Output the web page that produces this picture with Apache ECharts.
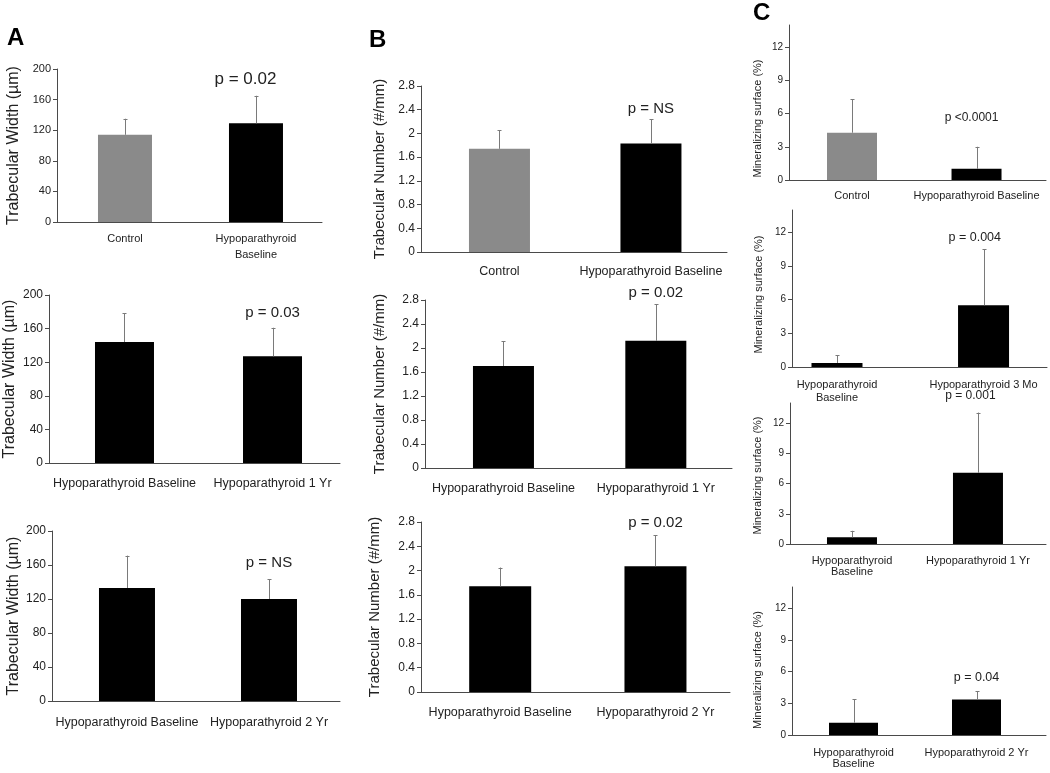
<!DOCTYPE html>
<html><head><meta charset="utf-8">
<script src="https://cdn.jsdelivr.net/npm/echarts@6/dist/echarts.min.js"></script>
<style>html,body{margin:0;padding:0;background:#fff}#c{width:1050px;height:773px}</style>
</head><body><div id="c"></div>
<script>
// ---------- DATA ----------
const catsA1 = ['Control', 'Hypoparathyroid\nBaseline'];
const catsA2 = ['Hypoparathyroid Baseline', 'Hypoparathyroid 1 Yr'];
const catsA3 = ['Hypoparathyroid Baseline', 'Hypoparathyroid 2 Yr'];
const catsB1 = ['Control', 'Hypoparathyroid Baseline'];
const catsB2 = ['Hypoparathyroid Baseline', 'Hypoparathyroid 1 Yr'];
const catsB3 = ['Hypoparathyroid Baseline', 'Hypoparathyroid 2 Yr'];
const catsC1 = ['Control', 'Hypoparathyroid Baseline'];
const catsC2 = ['Hypoparathyroid\nBaseline', 'Hypoparathyroid 3 Mo'];
const catsC3 = ['Hypoparathyroid\nBaseline', 'Hypoparathyroid 1 Yr'];
const catsC4 = ['Hypoparathyroid\nBaseline', 'Hypoparathyroid 2 Yr'];

// Trabecular width (µm): mean and top of error bar
const meanA1 = [114, 129];  const upperA1 = [135, 165];
const meanA2 = [144, 127];  const upperA2 = [178, 161];
const meanA3 = [133, 120];  const upperA3 = [171, 143];
// Trabecular number (#/mm)
const meanB1 = [1.74, 1.83]; const upperB1 = [2.05, 2.24];
const meanB2 = [1.70, 2.12]; const upperB2 = [2.11, 2.73];
const meanB3 = [1.74, 2.07]; const upperB3 = [2.05, 2.58];
// Mineralizing surface (%)
const meanC1 = [4.27, 1.01]; const upperC1 = [7.3, 3.0];
const meanC2 = [0.36, 5.5];  const upperC2 = [1.05, 10.5];
const meanC3 = [0.66, 7.07]; const upperC3 = [1.31, 13.05];
const meanC4 = [1.16, 3.35]; const upperC4 = [3.38, 4.16];

const pA1 = 'p = 0.02', pA2 = 'p = 0.03', pA3 = 'p = NS';
const pB1 = 'p = NS', pB2 = 'p = 0.02', pB3 = 'p = 0.02';
const pC1 = 'p <0.0001', pC2 = 'p = 0.004', pC3 = 'p = 0.001', pC4 = 'p = 0.04';

const ticksA = [0, 40, 80, 120, 160, 200];
const ticksB = [0, 0.4, 0.8, 1.2, 1.6, 2, 2.4, 2.8];
const ticksC = [0, 3, 6, 9, 12];

const titleA = 'Trabecular Width (µm)';
const titleB = 'Trabecular Number (#/mm)';
const titleC = 'Mineralizing surface (%)';

// ---------- LAYOUT ----------
const GRAY = '#8a8a8a', BLACK = '#000000';
const FONT = '"Liberation Sans", Arial, sans-serif';
const panels = [
  {cats:catsA1, mean:meanA1, upper:upperA1, p:pA1, colors:[GRAY,BLACK], ticks:ticksA, ymax:200, title:titleA,
   grid:{left:57,top:69,width:265,height:153}, xr:[-0.519,1.504], bw:54, pAt:[0.92,186], pFs:17, tFs:16, nameGap:35, xFs:11, xMargin:9, xLh:16, yFs:11},
  {cats:catsA2, mean:meanA2, upper:upperA2, p:pA2, colors:[BLACK,BLACK], ticks:ticksA, ymax:200, title:titleA,
   grid:{left:49,top:295,width:291,height:168}, xr:[-0.51,1.456], bw:59, pAt:[1.0,178.6], pFs:15, tFs:16, nameGap:31, xFs:12.5, xMargin:13, xLh:15, yFs:12},
  {cats:catsA3, mean:meanA3, upper:upperA3, p:pA3, colors:[BLACK,BLACK], ticks:ticksA, ymax:200, title:titleA,
   grid:{left:52,top:531,width:288,height:170}, xr:[-0.528,1.5], bw:56, pAt:[1.0,162], pFs:15, tFs:16, nameGap:30, xFs:12.5, xMargin:14, xLh:15, yFs:12},
  {cats:catsB1, mean:meanB1, upper:upperB1, p:pB1, colors:[GRAY,BLACK], ticks:ticksB, ymax:2.8, title:titleB,
   grid:{left:421,top:86,width:306,height:166}, xr:[-0.518,1.502], bw:61, pAt:[1.0,2.41], pFs:15, tFs:15, nameGap:34, xFs:12.5, xMargin:12, xLh:15, yFs:12},
  {cats:catsB2, mean:meanB2, upper:upperB2, p:pB2, colors:[BLACK,BLACK], ticks:ticksB, ymax:2.8, title:titleB,
   grid:{left:425,top:300,width:307,height:168}, xr:[-0.515,1.5], bw:61, pAt:[1.0,2.92], pFs:15, tFs:15, nameGap:38, xFs:12.5, xMargin:13, xLh:15, yFs:12},
  {cats:catsB3, mean:meanB3, upper:upperB3, p:pB3, colors:[BLACK,BLACK], ticks:ticksB, ymax:2.8, title:titleB,
   grid:{left:421,top:522,width:309,height:170}, xr:[-0.51,1.48], bw:62, pAt:[1.0,2.79], pFs:15, tFs:15, nameGap:39, xFs:12.5, xMargin:13, xLh:15, yFs:12},
  {cats:catsC1, mean:meanC1, upper:upperC1, p:pC1, colors:[GRAY,BLACK], ticks:ticksC, ymax:14, title:titleC,
   grid:{left:789,top:25,width:257,height:155}, xr:[-0.506,1.558], bw:50, pAt:[0.96,5.62], pFs:12, tFs:11, nameGap:26, xFs:11, xMargin:10, xLh:12, yFs:10, tShift:32},
  {cats:catsC2, mean:meanC2, upper:upperC2, p:pC2, colors:[BLACK,BLACK], ticks:ticksC, ymax:14, title:titleC,
   grid:{left:792,top:210,width:255,height:157}, xr:[-0.307,1.433], bw:51, pAt:[0.94,11.52], pFs:12.5, tFs:11, nameGap:28, xFs:11, xMargin:11, xLh:13, yFs:10, tShift:12},
  {cats:catsC3, mean:meanC3, upper:upperC3, p:pC3, colors:[BLACK,BLACK], ticks:ticksC, ymax:14, title:titleC,
   grid:{left:790,top:403,width:256,height:141}, xr:[-0.492,1.54], bw:50, pAt:[0.94,14.7], pFs:12, tFs:11, nameGap:27, xFs:11, xMargin:11, xLh:11.5, yFs:10, tShift:4},
  {cats:catsC4, mean:meanC4, upper:upperC4, p:pC4, colors:[BLACK,BLACK], ticks:ticksC, ymax:14, title:titleC,
   grid:{left:792,top:587,width:254,height:148}, xr:[-0.5,1.565], bw:49, pAt:[1.0,5.48], pFs:12.5, tFs:11, nameGap:29, xFs:11, xMargin:12, xLh:11, yFs:10, tShift:18}
];

const AXIS = '#4a4a4a', TXT = '#222';
const grids = [], xAxes = [], yAxes = [], series = [];
panels.forEach((P, i) => {
  grids.push(Object.assign({containLabel:false}, P.grid));
  xAxes.push({
    gridIndex:i, type:'value', min:P.xr[0], max:P.xr[1],
    axisLine:{show:true, onZero:false, lineStyle:{color:AXIS, width:1}},
    axisTick:{show:false}, splitLine:{show:false},
    axisLabel:{customValues:[0,1], formatter:v => P.cats[Math.round(v)], fontSize:P.xFs, lineHeight:P.xLh,
               color:TXT, fontFamily:FONT, margin:P.xMargin, align:'center'}
  });
  yAxes.push({
    gridIndex:i, type:'value', min:0, max:P.ymax,
    name:P.title, nameLocation:'middle', nameGap:P.nameGap, nameRotate:90,
    nameTextStyle:{fontSize:P.tFs, color:TXT, fontFamily:FONT, padding:[0, P.tShift||0, 0, 0]},
    axisLine:{show:true, onZero:false, lineStyle:{color:AXIS, width:1}},
    axisTick:{show:true, inside:false, length:4, customValues:P.ticks, lineStyle:{color:AXIS}},
    splitLine:{show:false},
    axisLabel:{customValues:P.ticks, fontSize:P.yFs, color:TXT, fontFamily:FONT, margin:6}
  });
  series.push({
    type:'bar', xAxisIndex:i, yAxisIndex:i, barWidth:P.bw, z:2,
    data:P.mean.map((m, k) => ({value:[k, m], itemStyle:{color:P.colors[k]}})),
    emphasis:{disabled:true}, silent:true
  });
  series.push({
    type:'custom', xAxisIndex:i, yAxisIndex:i, z:3, clip:false, silent:true,
    data:P.mean.map((m, k) => [k, m, P.upper[k]]),
    renderItem:(params, api) => {
      const a = api.coord([api.value(0), api.value(1)]);
      const b = api.coord([api.value(0), api.value(2)]);
      const x = Math.round(a[0]) + 0.5;
      return {type:'group', children:[
        {type:'line', shape:{x1:x, y1:a[1], x2:x, y2:b[1]}, style:{stroke:'#7a7a7a', lineWidth:1}},
        {type:'line', shape:{x1:x-2, y1:Math.round(b[1])+0.5, x2:x+2, y2:Math.round(b[1])+0.5}, style:{stroke:'#7a7a7a', lineWidth:1}}
      ]};
    }
  });
  series.push({
    type:'custom', xAxisIndex:i, yAxisIndex:i, z:4, clip:false, silent:true,
    data:[[P.pAt[0], P.pAt[1]]],
    renderItem:(params, api) => {
      const c = api.coord([api.value(0), api.value(1)]);
      return {type:'text', x:c[0], y:c[1], style:{text:P.p, fontSize:P.pFs, fontFamily:FONT, fill:TXT, align:'center', verticalAlign:'middle'}};
    }
  });
});

const chart = echarts.init(document.getElementById('c'), null, {renderer:'canvas'});
chart.setOption({
  animation:false, backgroundColor:'#fff',
  grid:grids, xAxis:xAxes, yAxis:yAxes, series:series,
  graphic:[
    {type:'text', left:7, top:26, style:{text:'A', fontSize:24, fontWeight:'bold', fontFamily:FONT, fill:'#000'}},
    {type:'text', left:369, top:28, style:{text:'B', fontSize:24, fontWeight:'bold', fontFamily:FONT, fill:'#000'}},
    {type:'text', left:753, top:1, style:{text:'C', fontSize:24, fontWeight:'bold', fontFamily:FONT, fill:'#000'}}
  ]
});
</script></body></html>
